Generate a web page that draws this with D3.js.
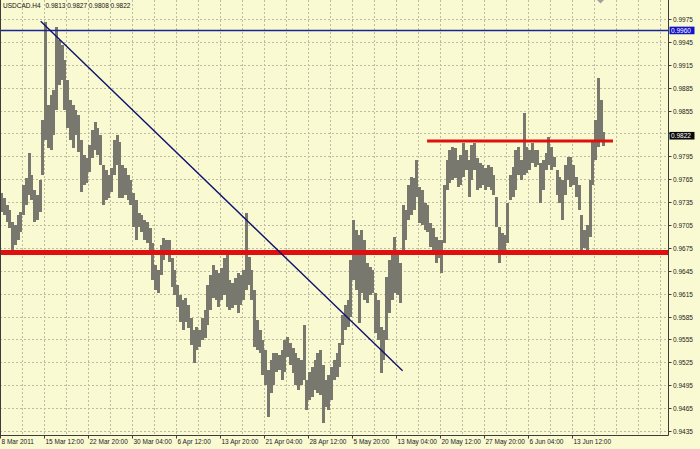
<!DOCTYPE html>
<html><head><meta charset="utf-8">
<script src="https://cdn.jsdelivr.net/npm/d3@7"></script>
<style>html,body{margin:0;padding:0;background:#fafad2;overflow:hidden}</style>
</head><body><svg id="c" width="700" height="449"></svg>
<script>
const symbol = "USDCAD.H4";
const lastOHLC = ["0.9813", "0.9827", "0.9808", "0.9822"];
const highs = [
.9747,.9740,.9731,.9725,.9709,.9705,.9718,.9722,.9757,.9767,
.9799,.9771,.9751,.9744,.9764,.9843,.9971,.9862,.9875,.9882,
.9965,.9947,.9941,.9921,.9895,.9869,.9862,.9856,.9849,.9816,
.9797,.9793,.9810,.9830,.9840,.9832,.9823,.9784,.9777,.9771,
.9780,.9816,.9823,.9814,.9784,.9780,.9771,.9764,.9747,.9738,
.9721,.9718,.9712,.9709,.9701,.9681,.9653,.9646,.9679,.9688,
.9685,.9685,.9662,.9646,.9626,.9613,.9607,.9609,.9600,.9583,
.9567,.9571,.9567,.9583,.9594,.9626,.9640,.9653,.9646,.9642,
.9649,.9662,.9668,.9633,.9629,.9636,.9642,.9640,.9646,.9721,
.9663,.9646,.9620,.9581,.9567,.9554,.9541,.9515,.9528,.9537,
.9537,.9535,.9541,.9554,.9558,.9550,.9544,.9537,.9531,.9528,
.9574,.9502,.9512,.9519,.9528,.9537,.9541,.9522,.9502,.9508,
.9519,.9528,.9537,.9550,.9587,.9600,.9607,.9659,.9712,.9698,
.9692,.9698,.9685,.9655,.9650,.9646,.9616,.9607,.9571,.9567,
.9637,.9659,.9668,.9689,.9672,.9655,.9731,.9725,.9757,.9768,
.9767,.9790,.9755,.9751,.9734,.9731,.9708,.9701,.9689,.9685,
.9685,.9757,.9790,.9803,.9807,.9806,.9790,.9797,.9812,.9803,
.9790,.9810,.9812,.9793,.9786,.9784,.9780,.9784,.9781,.9771,
.9742,.9702,.9694,.9692,.9734,.9771,.9781,.9803,.9807,.9790,
.9852,.9807,.9803,.9812,.9803,.9803,.9786,.9790,.9799,.9820,
.9807,.9794,.9777,.9768,.9764,.9784,.9794,.9794,.9784,.9768,
.9757,.9718,.9698,.9705,.9764,.9816,.9843,.9898,.9869,.9827
];
const lows = [
.9722,.9718,.9709,.9701,.9668,.9679,.9685,.9696,.9718,.9731,
.9744,.9738,.9709,.9712,.9722,.9771,.9816,.9806,.9803,.9823,
.9856,.9888,.9895,.9856,.9832,.9816,.9806,.9823,.9801,.9748,
.9757,.9760,.9774,.9793,.9803,.9797,.9784,.9731,.9738,.9740,
.9748,.9771,.9784,.9740,.9740,.9744,.9738,.9731,.9702,.9685,
.9702,.9696,.9685,.9681,.9672,.9633,.9620,.9616,.9640,.9659,
.9666,.9656,.9624,.9613,.9598,.9578,.9567,.9578,.9570,.9548,
.9524,.9541,.9545,.9554,.9557,.9574,.9594,.9609,.9607,.9598,
.9607,.9613,.9598,.9594,.9596,.9600,.9590,.9600,.9607,.9620,
.9626,.9607,.9545,.9541,.9537,.9508,.9495,.9453,.9485,.9495,
.9512,.9515,.9502,.9512,.9532,.9522,.9511,.9495,.9489,.9495,
.9502,.9463,.9476,.9480,.9489,.9485,.9482,.9446,.9467,.9463,
.9476,.9502,.9506,.9519,.9548,.9567,.9571,.9584,.9633,.9620,
.9577,.9616,.9607,.9603,.9613,.9616,.9564,.9554,.9511,.9528,
.9554,.9590,.9607,.9616,.9613,.9603,.9668,.9685,.9712,.9718,
.9725,.9742,.9708,.9705,.9698,.9696,.9676,.9672,.9655,.9662,
.9642,.9681,.9751,.9760,.9764,.9767,.9755,.9757,.9768,.9777,
.9742,.9764,.9777,.9751,.9753,.9757,.9751,.9755,.9751,.9744,
.9702,.9655,.9668,.9670,.9681,.9738,.9742,.9751,.9771,.9764,
.9771,.9773,.9777,.9786,.9781,.9784,.9734,.9751,.9777,.9784,
.9777,.9781,.9744,.9734,.9712,.9744,.9764,.9755,.9757,.9742,
.9725,.9672,.9675,.9672,.9689,.9757,.9790,.9807,.9816,.9808
];
const xTickLabels = ["8 Mar 2011","15 Mar 12:00","22 Mar 20:00","30 Mar 04:00","6 Apr 12:00","13 Apr 20:00","21 Apr 04:00","28 Apr 12:00","5 May 20:00","13 May 04:00","20 May 12:00","27 May 20:00","6 Jun 04:00","13 Jun 12:00"];
const xTickBars = [0,16,32,48,64,80,96,112,128,144,160,176,192,208];
const yTicks = [0.9975,0.9945,0.9915,0.9885,0.9855,0.9825,0.9795,0.9765,0.9735,0.9705,0.9675,0.9645,0.9615,0.9585,0.9555,0.9525,0.9495,0.9465,0.9435];
const hLevels = [0.9960, 0.9669];
const resistance = [155.3, 222.9, 0.9815];
const trendStart = [14.8, 0.9972];
const trendEnd = [146.4, 0.9514];
const labelPrices = [0.9960, 0.9822];

const svg = d3.select("#c");
const plotR = 668.5, plotB = 435.5;
const x = d3.scaleLinear().domain([0, 243]).range([0, 668.25]);
const y = d3.scaleLinear().domain([0.9435, 0.9975]).range([431, 19]);
const font = "'Liberation Sans', Arial, sans-serif";

svg.append("rect").attr("width",700).attr("height",449).attr("fill","#fafad2");

// grid
const grid = svg.append("g").attr("stroke","#bdbda2").attr("stroke-width",1).attr("stroke-dasharray","2,2");
d3.range(8, 243, 8).forEach(b => {
  const gx = Math.round(x(b)) + 0.5;
  grid.append("line").attr("x1",gx).attr("x2",gx).attr("y1",0).attr("y2",plotB);
});
yTicks.forEach(t => {
  const gy = Math.round(y(t)) + 0.5;
  grid.append("line").attr("x1",0).attr("x2",plotR).attr("y1",gy).attr("y2",gy);
});

// bars (high-low)
svg.append("g").attr("shape-rendering","crispEdges").selectAll("rect").data(highs).join("rect")
  .attr("x",(d,i)=>Math.round(x(i)))
  .attr("width",3)
  .attr("y",d=>Math.round(y(d)))
  .attr("height",(d,i)=>Math.max(1, Math.round(y(lows[i])) - Math.round(y(d))))
  .attr("fill","#78786f");

// horizontal levels
svg.append("line").attr("x1",0).attr("x2",plotR).attr("y1",y(hLevels[0])).attr("y2",y(hLevels[0]))
  .attr("stroke","#1c2496").attr("stroke-width",1.6);
svg.append("line").attr("x1",0).attr("x2",plotR).attr("y1",y(hLevels[1])).attr("y2",y(hLevels[1]))
  .attr("stroke","#e01010").attr("stroke-width",5);
svg.append("line").attr("x1",x(resistance[0])).attr("x2",x(resistance[1]))
  .attr("y1",y(resistance[2])).attr("y2",y(resistance[2]))
  .attr("stroke","#e01010").attr("stroke-width",3);
// trendline
svg.append("line").attr("x1",x(trendStart[0])).attr("y1",y(trendStart[1]))
  .attr("x2",x(trendEnd[0])).attr("y2",y(trendEnd[1]))
  .attr("stroke","#10106e").attr("stroke-width",1.4);

// frame
const fr = svg.append("g").attr("stroke","#3c3c3c").attr("stroke-width",1);
fr.append("line").attr("x1",0.5).attr("x2",0.5).attr("y1",0).attr("y2",plotB);
fr.append("line").attr("x1",plotR).attr("x2",plotR).attr("y1",0).attr("y2",plotB);
fr.append("line").attr("x1",0).attr("x2",plotR).attr("y1",plotB).attr("y2",plotB);

// y axis (tick label hidden under the price box is not drawn)
const ya = svg.append("g");
yTicks.forEach(t => {
  const ty = Math.round(y(t)) + 0.5;
  ya.append("line").attr("x1",plotR).attr("x2",plotR+3).attr("y1",ty).attr("y2",ty).attr("stroke","#3c3c3c");
  const covered = labelPrices.some(p => Math.abs(y(p) - y(t)) < 8);
  if (!covered) {
    ya.append("text").attr("x",673).attr("y",ty+2.3).attr("font-family",font).attr("font-size",6.5)
      .attr("fill","#222").text(t.toFixed(4));
  }
});
// x axis
const xa = svg.append("g");
xTickBars.forEach((b,i) => {
  const tx = Math.round(x(b)) + 0.5;
  xa.append("line").attr("x1",tx).attr("x2",tx).attr("y1",plotB).attr("y2",plotB+3).attr("stroke","#3c3c3c");
  xa.append("text").attr("x",tx+1).attr("y",444).attr("font-family",font).attr("font-size",6.5)
    .attr("fill","#222").text(xTickLabels[i]);
});

// price labels
const boxColors = ["#1414c8","#0a0a0a"];
labelPrices.forEach((p,i) => {
  const ly = y(p);
  svg.append("rect").attr("x",669.5).attr("y",ly-3.8).attr("width",25).attr("height",7.6).attr("fill",boxColors[i]);
  svg.append("text").attr("x",671).attr("y",ly+2.3).attr("font-family",font).attr("font-size",6.5)
    .attr("fill","#fff").text(p.toFixed(4));
});

// header
svg.append("text").attr("x",3).attr("y",8).attr("font-family",font).attr("font-size",6.5).attr("fill","#111").text(symbol);
svg.append("text").attr("x",45.5).attr("y",8).attr("font-family",font).attr("font-size",6.5).attr("fill","#111").text(lastOHLC.join(" "));

// shift marker
svg.append("path").attr("d","M597,0 L604,0 L600.5,3.5 Z").attr("fill","#a0a0a0");
</script></body></html>
